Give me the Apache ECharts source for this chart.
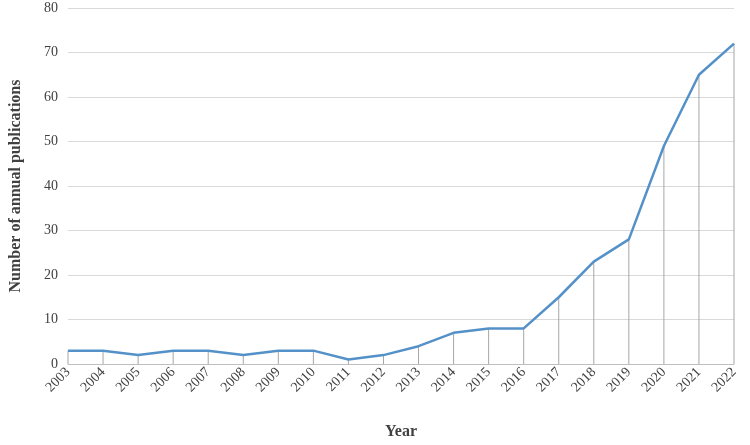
<!DOCTYPE html>
<html><head><meta charset="utf-8">
<script src="https://cdn.jsdelivr.net/npm/echarts@6/dist/echarts.min.js"></script>
<style>html,body{margin:0;padding:0;background:#fff}#c{width:750px;height:445px}</style>
</head><body><div id="c"></div>
<script>
const years = ['2003','2004','2005','2006','2007','2008','2009','2010','2011','2012','2013','2014','2015','2016','2017','2018','2019','2020','2021','2022'];
const publications = [3,3,2,3,3,2,3,3,1,2,4,7,8,8,15,23,28,49,65,72];

const chart = echarts.init(document.getElementById('c'));
const font = 'Liberation Serif';
chart.setOption({
    animation: false,
    grid: { left: 64, right: 16, top: 8, bottom: 75 },
    xAxis: {
        type: 'category', data: years, boundaryGap: false,
        name: 'Year', nameLocation: 'middle', nameGap: 60,
        nameTextStyle: { fontFamily: font, fontWeight: 'bold', fontSize: 16, color: '#404040' },
        axisLine: { lineStyle: { color: '#bfbfbf' } },
        axisTick: { show: false },
        axisLabel: { rotate: 45, fontFamily: font, fontSize: 14, color: '#404040', margin: 6 }
    },
    yAxis: {
        type: 'value', min: 0, max: 80, interval: 10,
        name: 'Number of annual publications', nameLocation: 'middle', nameGap: 44,
        nameTextStyle: { fontFamily: font, fontWeight: 'bold', fontSize: 16, color: '#404040' },
        axisLine: { show: false }, axisTick: { show: false },
        axisLabel: { fontFamily: font, fontSize: 14, color: '#404040', margin: 10 },
        splitLine: { lineStyle: { color: '#d9d9d9' } }
    },
    series: [
        { type: 'bar', data: publications, barWidth: 1, itemStyle: { color: '#a6a6a6' }, silent: true },
        { type: 'line', data: publications, symbol: 'none', lineStyle: { color: '#5591c9', width: 2.5 } }
    ]
});
</script></body></html>
